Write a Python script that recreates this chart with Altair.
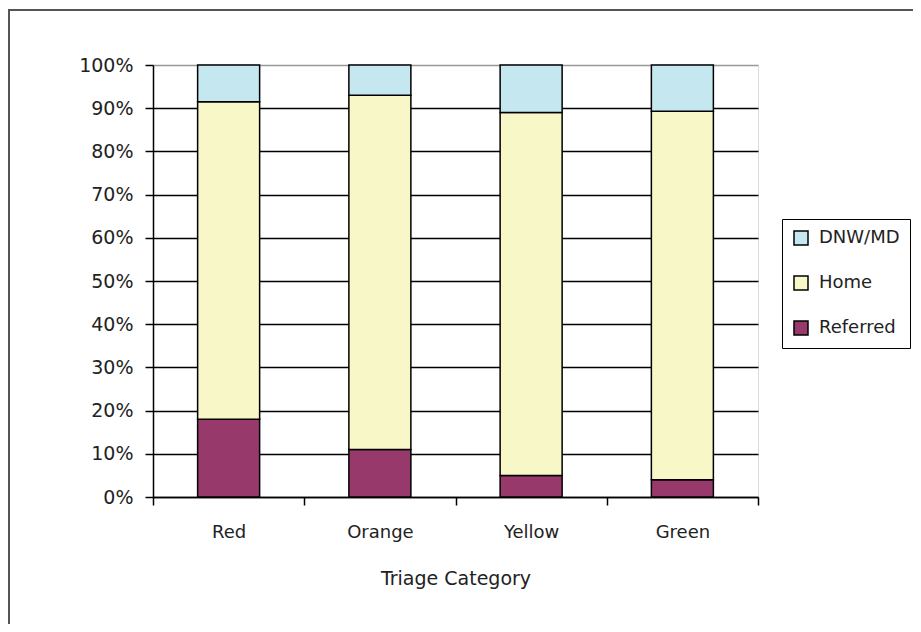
import altair as alt
import pandas as pd

categories = ["Red", "Orange", "Yellow", "Green"]
referred = [0.18, 0.11, 0.05, 0.04]
home = [0.735, 0.82, 0.84, 0.853]
dnw = [0.085, 0.07, 0.11, 0.107]
series = ["DNW/MD", "Home", "Referred"]
colors = ["#C5E8F0", "#F8F7C8", "#973A6B"]
stack_order = {"Referred": 0, "Home": 1, "DNW/MD": 2}

rows = []
for i, c in enumerate(categories):
    for s, vals in (("Referred", referred), ("Home", home), ("DNW/MD", dnw)):
        rows.append({"cat": c, "series": s, "value": vals[i], "ord": stack_order[s]})
df = pd.DataFrame(rows)

FONT = "DejaVu Sans"

bars = alt.Chart(df).mark_bar(size=62, stroke="black", strokeWidth=1.5).encode(
    x=alt.X("cat:N", sort=categories, title="Triage Category",
            scale=alt.Scale(paddingInner=0, paddingOuter=0),
            axis=alt.Axis(labelAngle=0, tickBand="extent", ticks=True, tickSize=8,
                          tickColor="black", tickWidth=1.5, domainColor="black",
                          domainWidth=1.5, labelPadding=18, titlePadding=28,
                          labelFontSize=18, titleFontSize=19, labelFont=FONT,
                          titleFont=FONT, titleFontWeight="normal",
                          labelColor="#222", titleColor="#222", grid=False)),
    y=alt.Y("value:Q", stack="zero", title=None,
            scale=alt.Scale(domain=[0, 1], nice=False),
            axis=alt.Axis(format=".0%", values=[i / 10 for i in range(11)],
                          tickSize=8, tickColor="black", tickWidth=1.5,
                          domainColor="black", domainWidth=1.5,
                          gridColor=alt.condition("datum.value == 1", alt.value("#999999"), alt.value("black")),
                          gridWidth=1.5, labelPadding=12, labelFontSize=19,
                          labelFont=FONT, labelColor="#222")),
    color=alt.Color("series:N", scale=alt.Scale(domain=series, range=colors),
                    legend=alt.Legend(title=None, orient="none", legendX=629, legendY=154,
                                      symbolType="square", symbolSize=196,
                                      symbolStrokeColor="black", symbolStrokeWidth=1.5,
                                      symbolOpacity=1, labelFontSize=18, labelFont=FONT,
                                      labelColor="#222", rowPadding=25, padding=10,
                                      strokeColor="black", fillColor="white",
                                      labelOffset=9)),
    order=alt.Order("ord:Q"),
)

frame = alt.Chart(pd.DataFrame({"a": [0]})).mark_rect(
    fill=None, stroke="#555555", strokeWidth=2
).encode(
    x=alt.value(-144), x2=alt.value(900), y=alt.value(-55), y2=alt.value(700)
)

chart = alt.layer(frame, bars).properties(
    width=605, height=432,
    autosize=alt.AutoSizeParams(type="none"),
    padding={"left": 145, "top": 57, "right": 155, "bottom": 127},
).configure_view(stroke="#999999", strokeWidth=1.5).configure(background="white")

chart.save("out.html", embed_options={"renderer": "svg", "actions": False})
